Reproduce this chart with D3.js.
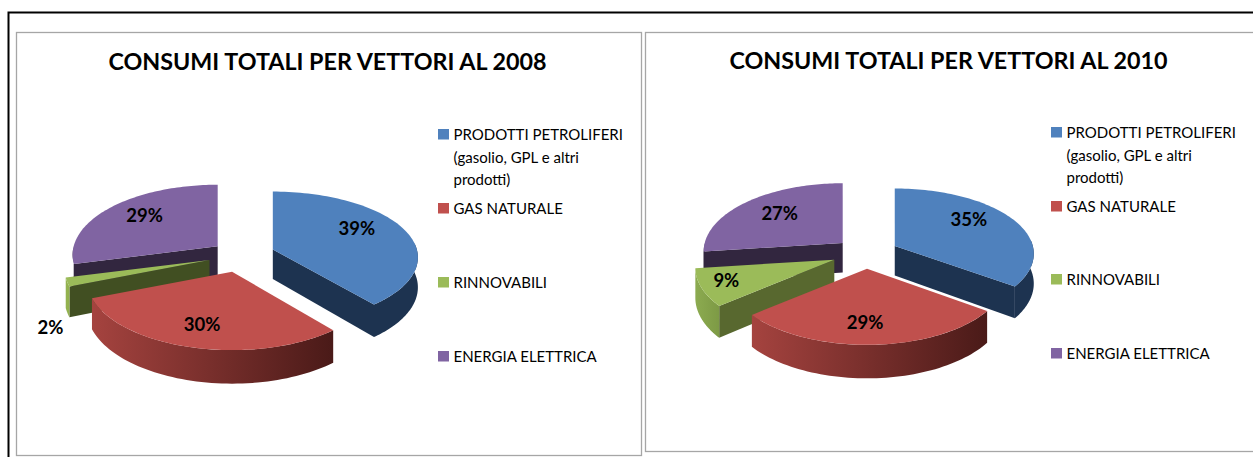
<!DOCTYPE html>
<html><head><meta charset="utf-8">
<script src="https://cdn.jsdelivr.net/npm/d3@7"></script>
<style>
html,body{margin:0;padding:0;background:#fff;overflow:hidden}
text{font-family:Lato,"Open Sans",sans-serif;fill:#000}
</style></head><body>
<svg id="c" width="1253" height="457"></svg>
<script>
// ---- data ----
const categories = ["PRODOTTI PETROLIFERI (gasolio, GPL e altri prodotti)","GAS NATURALE","RINNOVABILI","ENERGIA ELETTRICA"];
const legendLines = [["PRODOTTI PETROLIFERI","(gasolio, GPL e altri","prodotti)"],["GAS NATURALE"],["RINNOVABILI"],["ENERGIA ELETTRICA"]];
const values2008 = [39,30,2,29];
const values2010 = [35,29,9,27];
const title2008 = "CONSUMI TOTALI PER VETTORI AL 2008";
const title2010 = "CONSUMI TOTALI PER VETTORI AL 2010";

// ---- styles and layout ----
const topColors = ["#4f81bd","#c0504d","#9bbb59","#8064a2"];
const panels = [
 {id:"a",title:title2008,values:values2008,cx:241,cy:255,R:144,Ry:69,titleX:327.5,titleY:70,
  legendX:438,legendY:[129,203,277,351],explode:[.235,.25,.23,.205],squash:[.94,1,1,1],
  face:["#1d3350","#4a1a18","#414f22","#32263f"],
  wall:[["#1d3350","#1d3350"],["#a5433f","#4a1a18"],["#93b24f","#93b24f"],["#32263f","#32263f"]],
  label:[[84,-21],[-30,53],[-159,68],[-73,-31]]},
 {id:"b",title:title2010,values:values2010,cx:866,cy:253,R:138,Ry:67,titleX:948.5,titleY:69,
  legendX:1051,legendY:[127,201,274,348],explode:[.234,.234,.25,.225],squash:[.96,1,1,1],
  face:["#1d3350","#4a1a18","#58682f","#32263f"],
  wall:[["#1d3350","#1d3350"],["#a5433f","#4a1a18"],["#8cab50","#7d9a45"],["#32263f","#32263f"]],
  label:[[74,-26],[-2,54],[-108,21],[-63,-30]]}
];
const depth=29.5, persp=0.12;
const drawOrder=[3,0,2,1];

const svg=d3.select("#c"), defs=svg.append("defs");

// frames
svg.append("path").attr("d","M8.5 457V12.5H1253").attr("fill","none").attr("stroke","#000").attr("stroke-width",2);
svg.append("rect").attr("x",16.5).attr("y",32.5).attr("width",625).attr("height",423).attr("fill","#fff").attr("stroke","#a6a6a6").attr("stroke-width",1.3);
svg.append("rect").attr("x",645.5).attr("y",32.5).attr("width",640).attr("height",419).attr("fill","#fff").attr("stroke","#a6a6a6").attr("stroke-width",1.3);

panels.forEach(p=>{
  const g=svg.append("g");
  const pie=d3.pie().sort(null).value(d=>d).startAngle(0).endAngle(2*Math.PI);
  const arcs=pie(p.values);
  const rx=d3.scaleLinear().domain([-1,1]).range([-p.R,p.R]);
  const ry=d3.scaleLinear().domain([-1,1]).range([-p.Ry,p.Ry]);
  const s=v=>1/(1-persp*v);
  const line=d3.line().x(d=>d[0]).y(d=>d[1]);
  const apex=(a,i)=>{
    const mid=(a.startAngle+a.endAngle)/2, e=p.explode[i];
    return [p.cx+rx(e*Math.sin(mid)), p.cy+ry(-e*Math.cos(mid))];
  };

  drawOrder.forEach(i=>{
    const a=arcs[i], mid=(a.startAngle+a.endAngle)/2;
    const [ax,ay]=apex(a,i);
    const pt=t=>{const u=Math.sin(t),v=-Math.cos(t);return [ax+rx(u)*s(v),ay+ry(v)*s(v)*p.squash[i],s(v)];};
    const down=q=>[q[0],q[1]+depth*q[2]];
    const A=[ax,ay,1], P0=pt(a.startAngle), P1=pt(a.endAngle), M=pt(mid);
    const sl=g.append("g");

    // cut faces, only where they turn toward the viewer
    [P0,P1].forEach(P=>{
      const dx=P[0]-A[0], dy=P[1]-A[1];
      if(Math.abs(dx)<1) return;
      const cross=dx*(M[1]-A[1])-dy*(M[0]-A[0]);
      if(cross*Math.sign(dx)<0)
        sl.append("path").attr("d",line([A,P,down(P),down(A)])+"Z").attr("fill",p.face[i]);
    });
    // outer wall
    const lo=Math.max(a.startAngle,Math.PI/2-0.1), hi=Math.min(a.endAngle,3*Math.PI/2);
    if(hi>lo){
      const ts=d3.range(0,61).map(k=>lo+(hi-lo)*k/60), top=ts.map(pt);
      const id="w"+p.id+i;
      const xs=top.map(d=>d[0]);
      const gr=defs.append("linearGradient").attr("id",id).attr("gradientUnits","userSpaceOnUse")
        .attr("x1",d3.min(xs)).attr("x2",d3.max(xs)).attr("y1",0).attr("y2",0);
      gr.append("stop").attr("offset",0).attr("stop-color",p.wall[i][0]);
      gr.append("stop").attr("offset",1).attr("stop-color",p.wall[i][1]);
      sl.append("path").attr("d",line(top.concat(top.map(down).reverse()))+"Z").attr("fill",`url(#${id})`);
    }
    // top surface
    const ring=d3.range(0,81).map(k=>pt(a.startAngle+(a.endAngle-a.startAngle)*k/80));
    sl.append("path").attr("d",line([A].concat(ring))+"Z").attr("fill",topColors[i]);
  });

  // percentage labels
  arcs.forEach((a,i)=>{
    const [ax,ay]=apex(a,i);
    g.append("text").attr("x",ax+p.label[i][0]).attr("y",ay+p.label[i][1]+6.5)
      .attr("text-anchor","middle").attr("font-size",18.5).attr("font-weight",700)
      .text(a.data+"%");
  });

  // title
  g.append("text").attr("x",p.titleX).attr("y",p.titleY).attr("text-anchor","middle")
    .attr("font-size",23.3).attr("font-weight",700).text(p.title);

  // legend
  categories.forEach((c,i)=>{
    g.append("rect").attr("x",p.legendX).attr("y",p.legendY[i]).attr("width",11).attr("height",10.5).attr("fill",topColors[i]);
    legendLines[i].forEach((t,k)=>{
      g.append("text").attr("x",p.legendX+15.5).attr("y",p.legendY[i]+11+k*22.5)
        .attr("font-size",15).text(t);
    });
  });
});
</script>
</body></html>
